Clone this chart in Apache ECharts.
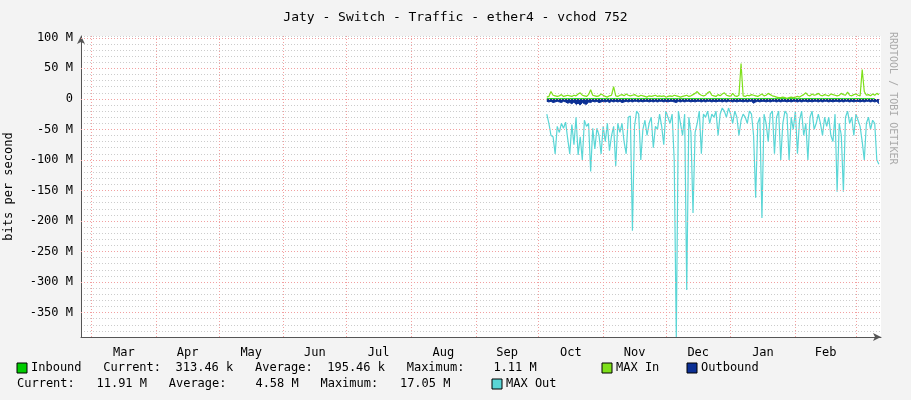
<!DOCTYPE html>
<html><head><meta charset="utf-8">
<script src="https://cdn.jsdelivr.net/npm/echarts@6/dist/echarts.min.js"></script>
<style>html,body{margin:0;padding:0;background:#f3f3f3}#c{width:911px;height:400px}</style>
</head><body><div id="c"></div>
<script>
// day offsets from 2023-02-24
const monthStarts=[5,36,66,97,127,158,189,219,250,280,311,342,371];
const monthNames=['Mar','Apr','May','Jun','Jul','Aug','Sep','Oct','Nov','Dec','Jan','Feb'];
const dataStartDay=223;
const maxIn=[3,4,12,6,5,4,5,7,4,5,6,5,4,6,5,8,10,6,5,4,7,15,6,5,4,5,8,6,4,3,5,6,20,5,4,6,7,5,8,6,5,6,7,5,4,6,5,4,3,5,4,5,6,4,5,4,5,3,4,5,4,6,5,4,3,4,5,6,4,5,7,9,12,8,6,5,6,10,12,6,5,4,7,5,8,10,6,5,4,9,5,4,6,58,5,4,6,5,7,6,5,4,6,8,5,6,9,7,5,4,3,2,2,3,2,1,2,3,2,3,4,3,5,7,10,6,5,8,6,7,9,6,5,7,6,5,8,7,6,5,6,9,7,6,11,6,5,7,8,6,5,48,12,6,7,5,8,6,9,7];
const outbound=[-4,-5,-4,-6,-5,-4,-5,-6,-4,-5,-7,-6,-8,-5,-9,-7,-10,-6,-8,-9,-5,-6,-4,-5,-4,-6,-5,-4,-5,-4,-6,-4,-5,-4,-5,-4,-6,-5,-4,-5,-4,-5,-4,-4,-5,-4,-5,-4,-4,-5,-4,-5,-4,-5,-4,-4,-5,-4,-5,-4,-4,-5,-6,-4,-5,-4,-5,-4,-4,-5,-4,-5,-4,-4,-5,-4,-5,-4,-4,-5,-4,-5,-4,-4,-5,-4,-5,-4,-4,-5,-4,-5,-4,-4,-5,-4,-5,-4,-4,-7,-5,-4,-5,-4,-4,-5,-4,-5,-4,-4,-5,-4,-5,-4,-4,-5,-4,-5,-4,-4,-5,-4,-5,-4,-4,-5,-4,-5,-4,-4,-5,-4,-5,-4,-4,-5,-4,-5,-4,-4,-5,-4,-5,-4,-4,-5,-4,-5,-4,-4,-5,-4,-5,-4,-4,-5,-4,-5,-4,-8];
const inbound=[0.2,0.3,0.4,0.3,0.2,0.3,0.2,0.3,0.4,0.2,0.3,0.2,0.3,0.2,0.4,0.3,0.2,0.3,0.2,0.3,0.2,0.3,0.4,0.3,0.2,0.3,0.2,0.3,0.2,0.3,0.2,0.3,0.4,0.2,0.3,0.2,0.3,0.2,0.3,0.2,0.3,0.2,0.3,0.2,0.3,0.2,0.3,0.2,0.3,0.2,0.3,0.2,0.3,0.2,0.3,0.2,0.3,0.2,0.3,0.2,0.3,0.2,0.3,0.2,0.3,0.2,0.3,0.2,0.3,0.2,0.3,0.2,0.3,0.2,0.3,0.2,0.3,0.2,0.3,0.2,0.3,0.2,0.3,0.2,0.3,0.2,0.3,0.2,0.3,0.2,0.3,0.2,0.3,0.2,0.3,0.2,0.3,0.2,0.3,0.2,0.3,0.2,0.3,0.2,0.3,0.2,0.3,0.2,0.3,0.2,0.3,0.2,0.3,0.2,0.3,0.2,0.3,0.2,0.3,0.2,0.3,0.2,0.3,0.2,0.3,0.2,0.3,0.2,0.3,0.2,0.3,0.2,0.3,0.2,0.3,0.2,0.3,0.2,0.3,0.2,0.3,0.2,0.3,0.2,0.3,0.2,0.3,0.2,0.3,0.2,0.3,0.2,0.3,0.2,0.3,0.2,0.3,0.31];
const maxOut=[-25,-40,-60,-62,-90,-45,-55,-40,-48,-38,-65,-90,-42,-75,-30,-92,-62,-100,-35,-45,-40,-119,-48,-82,-48,-60,-90,-45,-70,-40,-85,-60,-45,-110,-40,-55,-40,-70,-90,-30,-28,-216,-45,-20,-25,-100,-50,-35,-60,-40,-30,-80,-45,-50,-25,-45,-75,-20,-30,-40,-25,-100,-390,-20,-40,-60,-25,-313,-30,-55,-187,-55,-40,-20,-90,-25,-30,-20,-40,-25,-30,-20,-60,-25,-15,-20,-30,-15,-25,-40,-20,-30,-60,-35,-25,-30,-40,-20,-25,-60,-162,-40,-30,-195,-25,-40,-70,-25,-20,-90,-30,-20,-100,-40,-20,-25,-100,-30,-50,-20,-90,-35,-20,-60,-40,-100,-30,-20,-50,-40,-25,-40,-60,-30,-45,-30,-60,-70,-25,-152,-40,-60,-152,-30,-20,-40,-30,-60,-25,-35,-45,-70,-100,-40,-30,-50,-35,-40,-100,-107];
const yTickLabels=[100,50,0,-50,-100,-150,-200,-250,-300,-350];

const pts=a=>a.map((v,i)=>[dataStartDay+i,v]);
const mono='DejaVu Sans Mono';
const monthMids=monthNames.map((n,i)=>(monthStarts[i]+monthStarts[i+1])/2);
const red={color:'#f2a0a0',type:[1,2],width:1};
const chart=echarts.init(document.getElementById('c'));
const T=(x,y,t)=>({type:'text',left:x,top:y,style:{text:t,font:'12px '+mono,fill:'#000'}});
const S=(x,y,c)=>({type:'rect',shape:{x:x,y:y,width:10,height:10},style:{fill:c,stroke:'#000',lineWidth:1}});
chart.setOption({
 backgroundColor:'#f3f3f3',animation:false,
 title:{text:'Jaty - Switch - Traffic - ether4 - vchod 752',left:'center',top:6,textStyle:{fontFamily:mono,fontSize:13,fontWeight:'normal',color:'#000'}},
 grid:{left:81,top:36,width:800,height:301,backgroundColor:'#fff',show:true,borderWidth:0,outerBoundsMode:'none',containLabel:false},
 xAxis:{type:'value',min:0,max:383,
  axisLine:{onZero:false,lineStyle:{color:'#555'},symbol:['none','arrow'],symbolSize:[6,8]},
  axisTick:{show:false},splitLine:{show:false},
  axisLabel:{customValues:monthMids,formatter:v=>monthNames[monthMids.indexOf(v)]||'',fontFamily:mono,fontSize:12,color:'#000',margin:10}},
 yAxis:{type:'value',min:-390,max:103,interval:10,name:'bits per second',nameLocation:'middle',nameGap:66,nameRotate:90,
  nameTextStyle:{fontFamily:mono,fontSize:12,color:'#000'},
  axisLine:{show:true,onZero:false,lineStyle:{color:'#555'},symbol:['none','arrow'],symbolSize:[6,8]},
  axisTick:{show:false},
  splitLine:{show:true,lineStyle:{color:'#ccc',type:[1,2]}},
  axisLabel:{fontFamily:mono,fontSize:12,color:'#000',formatter:v=>yTickLabels.includes(v)?(v===0?'0':v+' M'):''}},
 series:[
  {type:'line',data:[],silent:true,markLine:{symbol:'none',silent:true,label:{show:false},lineStyle:red,
   data:monthStarts.map(d=>({xAxis:d})).concat(yTickLabels.map(v=>({yAxis:v})))}},
  {name:'Outbound',type:'line',data:pts(outbound),symbol:'none',lineStyle:{width:1,color:'#0b2f94'},areaStyle:{color:'#0b2f94',opacity:1}},
  {name:'Inbound',type:'line',data:pts(inbound),symbol:'none',lineStyle:{width:1,color:'#00cc00'},areaStyle:{color:'#00cc00',opacity:1}},
  {name:'MAX In',type:'line',data:pts(maxIn),symbol:'none',lineStyle:{width:1.2,color:'#7ee01a'}},
  {name:'MAX Out',type:'line',data:pts(maxOut),symbol:'none',lineStyle:{width:1.2,color:'#5ad6d6'}}
 ],
 graphic:[
  {type:'text',x:898,y:32,rotation:-Math.PI/2,style:{text:'RRDTOOL / TOBI OETIKER',font:'10px '+mono,fill:'#aaa'}},
  S(17,363,'#00cc00'),T(31,362,'Inbound   Current:  313.46 k   Average:  195.46 k   Maximum:    1.11 M'),
  S(602,363,'#7ee01a'),T(616,362,'MAX In'),
  S(687,363,'#0b2f94'),T(701,362,'Outbound'),
  T(17,378,'Current:   11.91 M   Average:    4.58 M   Maximum:   17.05 M'),
  S(492,379,'#5ad6d6'),T(506,378,'MAX Out')
 ]
});
</script></body></html>
